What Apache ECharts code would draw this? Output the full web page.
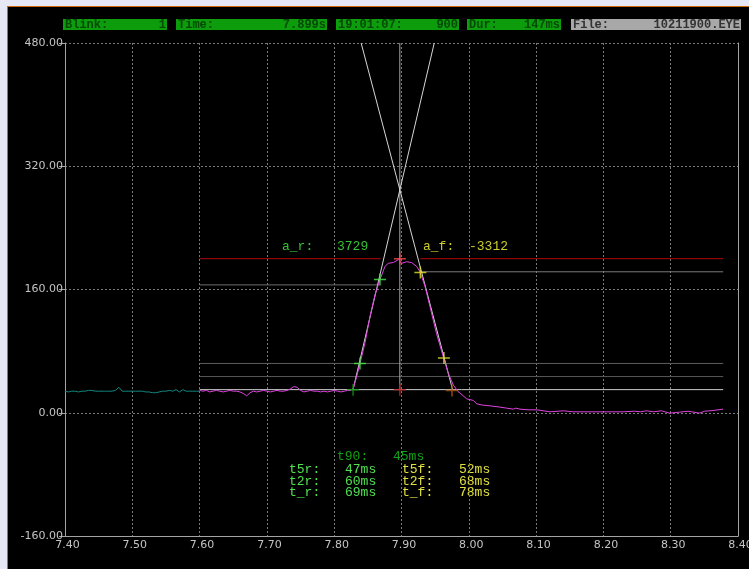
<!DOCTYPE html>
<html>
<head>
<meta charset="utf-8">
<script src="https://cdn.jsdelivr.net/npm/echarts@6/dist/echarts.min.js"></script>
<style>
  html, body { margin: 0; padding: 0; background: #000; }
  #chart { width: 749px; height: 569px; }
</style>
</head>
<body>
<div id="chart"></div>
<script>
// ---- Eye-blink record: lid position (units) against time (s) ----

// Axis ticks
const timeTicks = [7.40, 7.50, 7.60, 7.70, 7.80, 7.90, 8.00, 8.10, 8.20, 8.30, 8.40];
const valueTicks = [-160, 0, 160, 320, 480];

// Lead-in trace before the analysis window (teal)
const leadInTrace = [
  [7.400, 28], [7.405, 27], [7.410, 28], [7.415, 28], [7.420, 27], [7.425, 28],
  [7.430, 28], [7.435, 29], [7.440, 29], [7.445, 28], [7.450, 28], [7.455, 28],
  [7.460, 28], [7.465, 28], [7.470, 28], [7.475, 29], [7.480, 33], [7.485, 28],
  [7.490, 28], [7.495, 28], [7.500, 28], [7.505, 28], [7.510, 28], [7.515, 28],
  [7.520, 27], [7.525, 27], [7.530, 26], [7.535, 26], [7.540, 27], [7.545, 28],
  [7.550, 28], [7.555, 29], [7.560, 28], [7.565, 30], [7.570, 27], [7.575, 30],
  [7.580, 28], [7.585, 28], [7.590, 28], [7.595, 28], [7.600, 28]
];

// Blink trace inside the analysis window (magenta)
const blinkTrace = [
  [7.600, 29], [7.605, 28], [7.610, 29], [7.615, 27], [7.620, 28], [7.625, 29],
  [7.630, 28], [7.635, 27], [7.640, 28], [7.645, 29], [7.650, 28], [7.655, 28],
  [7.660, 27], [7.665, 25], [7.670, 22], [7.675, 26], [7.680, 28], [7.685, 27],
  [7.690, 28], [7.695, 29], [7.700, 28], [7.705, 27], [7.710, 28], [7.715, 29],
  [7.720, 28], [7.725, 28], [7.730, 29], [7.735, 31], [7.740, 34], [7.745, 33],
  [7.750, 29], [7.755, 27], [7.760, 28], [7.765, 29], [7.770, 28], [7.775, 28],
  [7.780, 27], [7.785, 28], [7.790, 27], [7.795, 28], [7.800, 29], [7.805, 28],
  [7.810, 27], [7.815, 28], [7.820, 29], [7.825, 29],
  [7.8284, 32], [7.8334, 47], [7.8383, 64], [7.8458, 91], [7.8532, 125],
  [7.8606, 153], [7.8680, 173], [7.8755, 190], [7.8804, 194], [7.8879, 195],
  [7.8955, 199], [7.9003, 194], [7.9077, 196], [7.9150, 195], [7.9225, 190],
  [7.9275, 183], [7.9350, 164], [7.9423, 138], [7.9520, 103], [7.9620, 73],
  [7.9695, 51], [7.9770, 36], [7.9840, 27.5], [7.9870, 25.5], [7.9970, 18],
  [8.0067, 16], [8.0117, 11.6], [8.0200, 10], [8.0315, 9], [8.0450, 7.5],
  [8.0560, 6], [8.0660, 4.7], [8.0700, 6], [8.0760, 4.7], [8.0880, 3.8],
  [8.1010, 3.8], [8.1207, 1.2], [8.1405, 2.5], [8.1550, 1.2], [8.1800, 1.2],
  [8.2045, 1.2], [8.2290, 1.2], [8.2466, 2], [8.2550, 1.2], [8.2640, 2.5],
  [8.2740, 1.2], [8.2860, 2.5], [8.2986, -0.5], [8.3134, 0.8], [8.3257, 2],
  [8.3430, -0.5], [8.3505, 2], [8.3630, 2.9], [8.3777, 4.7]
];

// Amplitude levels of the analysed blink
const baseLevel = 30;
const peakLevel = 200;
const lowLevels = [47, 64];        // 10 % and 20 %
const riseHighLevel = 166;         // 80 %
const fallHighLevel = 183;         // 90 %
const windowStart = 7.60;
const windowEnd = 8.378;
const peakTime = 7.8975;
const riseOnset = 7.828;
const fallOffset = 7.9759;
const riseHighEnd = 7.864;
const fallHighStart = 7.927;
const peakGapStart = 7.869;
const peakGapEnd = 7.928;

// Tangent slopes (units / s)
const slopeRise = 3729;
const slopeFall = -3312;

// Marker crosses
const crossPoints = [
  [7.828, 30], [7.8383, 64], [7.868, 173], [7.8975, 200],
  [7.8975, 30], [7.928, 182], [7.963, 71], [7.975, 29]
];
const crossColors = ['#0c9a0c', '#44ee44', '#44ee44', '#ff4a4a',
                     '#c02020', '#e4e42a', '#e4e42a', '#b05a10'];

// Timing read-outs
const riseNames = ['t5r:', 't2r:', 't_r:'];
const riseMs = [47, 60, 69];
const fallNames = ['t5f:', 't2f:', 't_f:'];
const fallMs = [52, 68, 78];
const t90Ms = 45;

// Status bar fields
const statusNames = ['Blink:', 'Time:', '19:01:07:', 'Dur:', 'File:'];
const statusValues = ['1', '7.899s', '900', '147ms', '10211900.EYE'];

// ---------------------------------------------------------------
const yTop = valueTicks[valueTicks.length - 1];
const seg = (x0, x1, v) => [[x0, v], [x1, v]];
const plainLine = (data, color, z) => ({
  type: 'line', data, symbol: 'none', silent: true, animation: false, z: z || 2,
  lineStyle: { color, width: 1 }
});

const riseTop = riseOnset + (yTop - baseLevel) / slopeRise;
const fallTop = fallOffset + (yTop - baseLevel) / slopeFall;

const mono = '"Liberation Mono", "DejaVu Sans Mono", monospace';

const statusBoxes = [
  { x: 63, w: 104, fill: '#0c9c0c' },
  { x: 176, w: 151, fill: '#0c9c0c' },
  { x: 336, w: 123, fill: '#0c9c0c' },
  { x: 467, w: 94, fill: '#0c9c0c' },
  { x: 571, w: 170, fill: '#a8a8a8' }
];

const graphics = [
  { type: 'rect', shape: { x: 0, y: 0, width: 749, height: 6 }, style: { fill: '#e6e8f6' }, silent: true },
  { type: 'rect', shape: { x: 0, y: 0, width: 7, height: 569 }, style: { fill: '#e6e8f6' }, silent: true },
  { type: 'rect', shape: { x: 7, y: 6, width: 742, height: 1 }, style: { fill: '#d0680c' }, silent: true },
  { type: 'rect', shape: { x: 7, y: 6, width: 1, height: 563 }, style: { fill: '#d0680c' }, silent: true }
];

statusBoxes.forEach((b, i) => {
  const txt = i === 4 ? '#333333' : '#054a05';
  graphics.push({ type: 'rect', shape: { x: b.x, y: 19, width: b.w, height: 11 }, style: { fill: b.fill }, silent: true });
  graphics.push({ type: 'text', x: b.x + 2, y: 25, style: { text: statusNames[i], fill: txt, font: 'bold 12px ' + mono, textVerticalAlign: 'middle' }, silent: true });
  graphics.push({ type: 'text', x: b.x + b.w - 1, y: 25, style: { text: statusValues[i], fill: txt, font: 'bold 12px ' + mono, textAlign: 'right', textVerticalAlign: 'middle' }, silent: true });
});

const addText = (x, y, text, fill) => graphics.push({
  type: 'text', x, y, silent: true,
  style: { text, fill, font: '13px ' + mono, textVerticalAlign: 'middle' }
});

addText(282, 247, 'a_r:', '#36c036');
addText(337, 247, String(slopeRise), '#36c036');
addText(423, 247, 'a_f:', '#cccc2c');
addText(469, 247, String(slopeFall), '#cccc2c');
addText(337, 457, 't90:', '#14a014');
addText(393, 457, t90Ms + 'ms', '#14a014');
[470, 482, 493].forEach((y, i) => {
  addText(289, y, riseNames[i], '#50e050');
  addText(345, y, riseMs[i] + 'ms', '#50e050');
  addText(402, y, fallNames[i], '#e0e040');
  addText(459, y, fallMs[i] + 'ms', '#e0e040');
});

const plus = 'path://M5.25,0h1.5v5.25h5.25v1.5h-5.25v5.25h-1.5v-5.25h-5.25v-1.5h5.25z';

const option = {
  backgroundColor: '#000',
  animation: false,
  grid: { left: 65, right: 11, top: 43, bottom: 33, containLabel: false, outerBoundsMode: 'none' },
  xAxis: {
    type: 'value', min: timeTicks[0], max: timeTicks[timeTicks.length - 1], interval: 0.1,
    axisLine: { onZero: false, lineStyle: { color: '#a4a4a4', width: 1 } },
    axisTick: { show: false },
    axisLabel: {
      color: '#c4c4c4', fontSize: 11, fontFamily: '"DejaVu Sans", sans-serif', margin: 4,
      padding: [0, 0, 0, 5], hideOverlap: false,
      formatter: v => v.toFixed(2), showMaxLabel: true, showMinLabel: true
    },
    splitLine: { show: true, lineStyle: { color: '#7a7a7a', type: [2, 2], width: 1 } }
  },
  yAxis: [{
    type: 'value', min: valueTicks[0], max: yTop, interval: 160,
    axisLine: { show: true, lineStyle: { color: '#a4a4a4', width: 1 } },
    axisTick: { show: true, length: 6, lineStyle: { color: '#a4a4a4' } },
    axisLabel: {
      color: '#c4c4c4', fontSize: 11, fontFamily: '"DejaVu Sans", sans-serif', margin: 2,
      formatter: v => v.toFixed(2)
    },
    splitLine: { show: true, lineStyle: { color: '#7a7a7a', type: [2, 2], width: 1 } }
  }, {
    type: 'value', position: 'right', min: valueTicks[0], max: yTop, interval: 160,
    axisLine: { show: true, lineStyle: { color: '#a4a4a4', width: 1 } },
    axisTick: { show: false }, axisLabel: { show: false }, splitLine: { show: false }
  }],
  graphic: graphics,
  series: [
    plainLine(seg(windowStart, windowEnd, lowLevels[0]), '#565656'),
    plainLine(seg(windowStart, windowEnd, lowLevels[1]), '#5e5e5e'),
    plainLine(seg(windowStart, riseHighEnd, riseHighLevel), '#6c6c6c'),
    plainLine(seg(fallHighStart, windowEnd, fallHighLevel), '#7a7a7a'),
    plainLine(seg(windowStart, peakGapStart, peakLevel), '#b00808'),
    plainLine(seg(peakGapEnd, windowEnd, peakLevel), '#b00808'),
    plainLine(seg(windowStart, windowEnd, baseLevel), '#cfcfcf'),
    plainLine([[peakTime, baseLevel], [peakTime, yTop]], '#a8a8a8'),
    plainLine([[riseOnset, baseLevel], [riseTop, yTop]], '#d6d6d6', 3),
    plainLine([[fallOffset, baseLevel], [fallTop, yTop]], '#d6d6d6', 3),
    plainLine(leadInTrace, '#13877f', 4),
    plainLine(blinkTrace, '#e044e0', 4),
    {
      type: 'scatter', silent: true, animation: false, z: 5,
      symbol: plus, symbolSize: 12,
      data: crossPoints.map((p, i) => ({ value: p, itemStyle: { color: crossColors[i] } }))
    }
  ]
};

const chart = echarts.init(document.getElementById('chart'), null, { renderer: 'canvas' });
chart.setOption(option);
</script>
</body>
</html>
